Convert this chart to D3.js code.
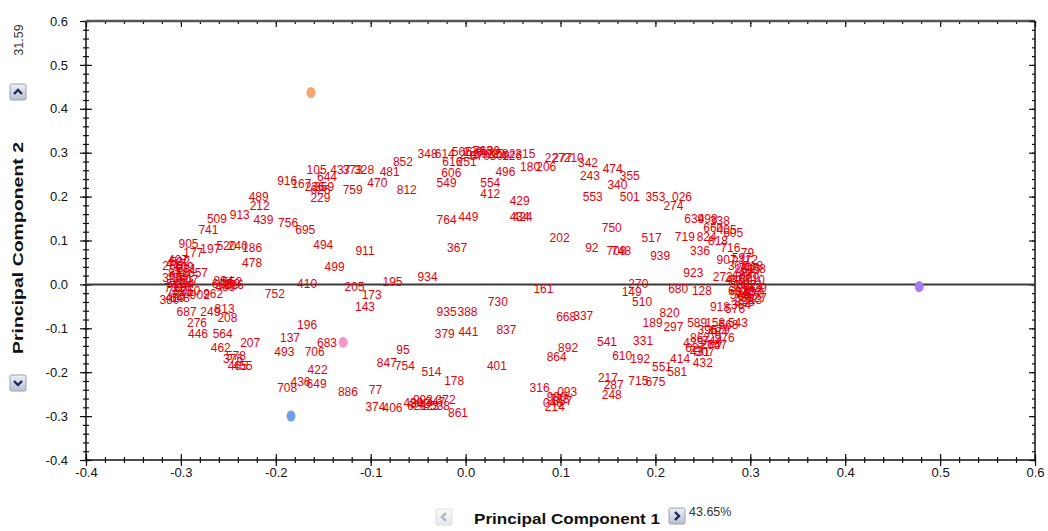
<!DOCTYPE html>
<html>
<head>
<meta charset="utf-8">
<script src="https://cdn.jsdelivr.net/npm/d3@7"></script>
<style>
  html, body { margin: 0; padding: 0; background: #fff; }
  svg { display: block; font-family: "Liberation Sans", Arial, sans-serif; }
</style>
</head>
<body>
<svg id="chart" width="1048" height="531"></svg>
<script>
// ---- data ----
const labels = ["916","167","105","644","437","373","328","481","470","852","812","759","626","236","229","489","212","509","913","439","756","695","741","905","197","520","240","186","478","177","407","657","494","911","499","410","752","205","173","143","195","934","367","764","449",
"417","872","301","563","118","790","234","648","419","902","962","681","325","760",
"603","060","226","483",
"687","249","813","208","276","446","564","462","207","376","455","465","578","137","493","196","706","683","422","708","436","649","886","77","374","406","430","993","923","372","843","861","847","95","754","514","178","401","935","388","379","441","730","837","161",
"348","614","616","251","606","549","505","220","593","022","870","139","309","496","554","412","315","180","206","227","277","210","342","243","474","355","340","553","501","353","026","274","429","424","434","202","92","750","748","708","517","939","719","634","998","338","824","605","405","336","907","923","272","79","218","270","149","510","680","128","918","576",
"761","283","546","635","710","488","659","302","856","127","390","871","445","597","716","818","660",
"668","337","541","331","189","820","297","610","192","892","864","316","093","990","214","887","217","248","287","715","675","551","581","414","425","432","589","543","976","158","395","862","744","627","307","484","747",
"112","458","633","729","845","213","364","570","682","909","151",
"266","592","731","844","380","507","655","109",
"894","552","299","763","582","126","621","347","538","773","046","265","679","431","568","359"];
const pc1 = [-0.188,-0.173,-0.157,-0.146,-0.132,-0.119,-0.107,-0.080,-0.093,-0.066,-0.062,-0.119,-0.153,-0.159,-0.153,-0.218,-0.217,-0.262,-0.238,-0.213,-0.187,-0.169,-0.271,-0.292,-0.269,-0.252,-0.240,-0.225,-0.225,-0.287,-0.303,-0.282,-0.150,-0.106,-0.138,-0.167,-0.201,-0.117,-0.099,-0.106,-0.077,-0.040,-0.009,-0.020,0.003,
-0.305,-0.303,-0.298,-0.305,-0.299,-0.304,-0.296,-0.301,-0.306,-0.280,-0.266,-0.294,-0.309,-0.290,
-0.257,-0.248,-0.244,-0.253,
-0.294,-0.269,-0.254,-0.251,-0.283,-0.282,-0.256,-0.258,-0.227,-0.245,-0.235,-0.240,-0.242,-0.185,-0.191,-0.167,-0.159,-0.146,-0.156,-0.188,-0.174,-0.157,-0.124,-0.095,-0.095,-0.077,-0.055,-0.045,-0.038,-0.021,-0.048,-0.008,-0.083,-0.066,-0.064,-0.036,-0.012,0.033,-0.020,0.002,-0.022,0.003,0.034,0.043,0.082,
-0.040,-0.022,-0.014,0.001,-0.015,-0.020,-0.004,0.008,0.020,0.031,0.015,0.026,0.036,0.042,0.026,0.026,0.063,0.068,0.085,0.094,0.102,0.114,0.129,0.131,0.155,0.173,0.160,0.134,0.173,0.200,0.228,0.219,0.057,0.060,0.057,0.099,0.133,0.154,0.164,0.159,0.196,0.205,0.231,0.241,0.255,0.268,0.254,0.282,0.275,0.247,0.275,0.240,0.271,0.297,0.303,0.182,0.175,0.186,0.224,0.249,0.268,0.284,
0.294,0.302,0.289,0.297,0.305,0.291,0.300,0.287,0.294,0.307,0.289,0.303,0.284,0.291,0.279,0.266,0.261,
0.106,0.124,0.149,0.187,0.197,0.215,0.219,0.165,0.184,0.108,0.096,0.078,0.107,0.096,0.094,0.102,0.150,0.154,0.156,0.182,0.200,0.207,0.223,0.226,0.240,0.250,0.244,0.287,0.273,0.263,0.255,0.247,0.260,0.242,0.252,0.266,0.265,
0.298,0.306,0.289,0.307,0.295,0.302,0.290,0.304,0.287,0.299,0.294,
-0.309,-0.301,-0.307,-0.298,-0.312,-0.292,-0.302,-0.297,
-0.255,-0.246,0.004,0.018,0.042,0.049,-0.051,-0.032,-0.027,0.099,0.092,0.258,0.268,0.247,0.277,-0.149];
const pc2 = [0.235,0.228,0.260,0.244,0.260,0.260,0.260,0.255,0.230,0.278,0.214,0.214,0.216,0.223,0.196,0.198,0.178,0.150,0.157,0.146,0.141,0.123,0.123,0.093,0.080,0.087,0.087,0.084,0.048,0.071,0.055,0.025,0.089,0.075,0.039,0.002,-0.021,-0.007,-0.025,-0.052,0.005,0.016,0.084,0.146,0.153,
0.046,0.027,0.014,0.002,-0.007,-0.016,0.002,-0.032,-0.030,-0.025,-0.021,0.036,0.014,-0.014,
0.002,0.000,-0.002,-0.005,
-0.064,-0.064,-0.055,-0.077,-0.087,-0.112,-0.112,-0.144,-0.134,-0.169,-0.187,-0.185,-0.162,-0.121,-0.155,-0.093,-0.155,-0.134,-0.196,-0.237,-0.223,-0.226,-0.246,-0.241,-0.280,-0.282,-0.271,-0.264,-0.276,-0.264,-0.273,-0.292,-0.178,-0.150,-0.185,-0.200,-0.219,-0.185,-0.064,-0.064,-0.112,-0.109,-0.041,-0.105,-0.011,
0.296,0.298,0.278,0.278,0.253,0.232,0.301,0.301,0.298,0.296,0.292,0.303,0.292,0.255,0.230,0.207,0.298,0.267,0.267,0.289,0.287,0.287,0.276,0.248,0.264,0.248,0.226,0.198,0.198,0.198,0.198,0.178,0.191,0.153,0.153,0.105,0.084,0.128,0.077,0.077,0.105,0.064,0.107,0.150,0.150,0.144,0.107,0.118,0.123,0.077,0.055,0.025,0.016,0.071,0.043,0.002,-0.018,-0.041,-0.011,-0.014,-0.052,-0.055,
-0.002,-0.014,-0.025,-0.027,0.009,0.021,0.032,0.043,-0.041,-0.032,-0.009,-0.002,0.009,0.059,0.082,0.100,0.128,
-0.075,-0.071,-0.132,-0.128,-0.087,-0.066,-0.098,-0.162,-0.169,-0.146,-0.166,-0.235,-0.246,-0.257,-0.280,-0.266,-0.214,-0.253,-0.230,-0.219,-0.223,-0.189,-0.200,-0.169,-0.134,-0.178,-0.089,-0.089,-0.121,-0.089,-0.105,-0.121,-0.128,-0.146,-0.155,-0.109,-0.139,
0.055,0.036,0.009,-0.009,-0.018,-0.036,-0.048,-0.023,-0.014,0.014,0.036,
0.041,0.050,-0.009,-0.021,-0.036,0.011,0.018,0.039,
0.007,0.005,0.294,0.303,0.298,0.292,-0.276,-0.269,-0.278,-0.260,-0.271,-0.139,-0.105,-0.155,-0.093,0.221];

// highlighted observations (dots)
const dotPc1 = [-0.163, -0.184, -0.129, 0.478];
const dotPc2 = [0.437, -0.300, -0.132, -0.005];

const xTickLabels = ["-0.4","-0.3","-0.2","-0.1","0.0","0.1","0.2","0.3","0.4","0.5","0.6"];
const yTickLabels = ["-0.4","-0.3","-0.2","-0.1","0.0","0.1","0.2","0.3","0.4","0.5","0.6"];
const xTitle = "Principal Component 1";
const yTitle = "Principal Component 2";
const xPct = "43.65%";
const yPct = "31.59";

// ---- styles ----
const dotColours = ["#f5a66e", "#6f9fe6", "#f29ac6", "#a67af2"];
const labelColour = "#e4000a";

// ---- layout ----
const svg = d3.select("#chart");
const pLeft = 86, pRight = 1035, pTop = 21, pBottom = 460;
const x = d3.scaleLinear().domain([-0.4, 0.6]).range([pLeft, pRight]);
const y = d3.scaleLinear().domain([-0.4, 0.6]).range([pBottom, pTop]);
const major = xTickLabels.map(Number);
const minorX = x.ticks(50);
const minorY = y.ticks(50);

function tickAxis(axisFn, scale, values, size, g) {
  g.call(axisFn(scale).tickValues(values).tickSize(size).tickFormat(""))
   .call(s => s.select(".domain").remove())
   .call(s => s.selectAll("line").attr("stroke", "#111").attr("stroke-width", 1.2));
}

// left axis: crossing ticks
const gl = svg.append("g").attr("transform", `translate(${pLeft},0)`);
tickAxis(d3.axisLeft, y, minorY, 3, gl.append("g"));
tickAxis(d3.axisLeft, y, minorY, -3, gl.append("g"));
tickAxis(d3.axisLeft, y, major, 6, gl.append("g"));
tickAxis(d3.axisLeft, y, major, -6, gl.append("g"));
gl.append("g").call(d3.axisLeft(y).tickValues(major).tickSize(0).tickPadding(18)
    .tickFormat((d, i) => yTickLabels[i]))
  .call(s => s.select(".domain").remove())
  .call(s => s.selectAll("text").attr("font-size", 13).attr("fill", "#111")
    .attr("font-family", "Liberation Sans, Arial, sans-serif"));
gl.append("line").attr("x1", 0).attr("x2", 0).attr("y1", pTop).attr("y2", pBottom)
  .attr("stroke", "#111").attr("stroke-width", 1.5);

// bottom axis: crossing ticks
const gb = svg.append("g").attr("transform", `translate(0,${pBottom})`);
tickAxis(d3.axisBottom, x, minorX, 3, gb.append("g"));
tickAxis(d3.axisBottom, x, minorX, -3, gb.append("g"));
tickAxis(d3.axisBottom, x, major, 6, gb.append("g"));
tickAxis(d3.axisBottom, x, major, -6, gb.append("g"));
gb.append("g").call(d3.axisBottom(x).tickValues(major).tickSize(0).tickPadding(8)
    .tickFormat((d, i) => xTickLabels[i]))
  .call(s => s.select(".domain").remove())
  .call(s => s.selectAll("text").attr("font-size", 13).attr("fill", "#111")
    .attr("font-family", "Liberation Sans, Arial, sans-serif"));
gb.append("line").attr("x1", pLeft).attr("x2", pRight).attr("y1", 0).attr("y2", 0)
  .attr("stroke", "#111").attr("stroke-width", 1.5);

// top axis: inward ticks
const gt = svg.append("g").attr("transform", `translate(0,${pTop})`);
tickAxis(d3.axisTop, x, minorX, -3, gt.append("g"));
tickAxis(d3.axisTop, x, major, -6, gt.append("g"));
gt.append("line").attr("x1", pLeft).attr("x2", pRight).attr("y1", 0).attr("y2", 0)
  .attr("stroke", "#555").attr("stroke-width", 2.5);

// right axis: inward ticks
const gr = svg.append("g").attr("transform", `translate(${pRight},0)`);
tickAxis(d3.axisRight, y, minorY, -3, gr.append("g"));
tickAxis(d3.axisRight, y, major, -6, gr.append("g"));
gr.append("line").attr("x1", 0).attr("x2", 0).attr("y1", pTop).attr("y2", pBottom)
  .attr("stroke", "#111").attr("stroke-width", 1.5);

// zero line
svg.append("line").attr("x1", pLeft).attr("x2", pRight).attr("y1", y(0)).attr("y2", y(0))
  .attr("stroke", "#3a3a3a").attr("stroke-width", 2);

// labels
svg.append("g").selectAll("text").data(labels).join("text")
  .attr("x", (d, i) => x(pc1[i]))
  .attr("y", (d, i) => y(pc2[i]))
  .attr("text-anchor", "middle")
  .attr("dominant-baseline", "central")
  .attr("font-size", 12)
  .attr("fill", labelColour)
  .text(d => d);

// dots
svg.append("g").selectAll("ellipse").data(dotPc1).join("ellipse")
  .attr("cx", (d, i) => x(d))
  .attr("cy", (d, i) => y(dotPc2[i]))
  .attr("rx", 4.5).attr("ry", 5.5)
  .attr("fill", (d, i) => dotColours[i]);

// buttons
const defs = svg.append("defs");
const grad = defs.append("linearGradient").attr("id", "btn").attr("x1", 0).attr("y1", 0).attr("x2", 0).attr("y2", 1);
grad.append("stop").attr("offset", 0).attr("stop-color", "#eef0f6");
grad.append("stop").attr("offset", 1).attr("stop-color", "#b9bfd0");
function button(cx, cy, dir, faded) {
  const g = svg.append("g").attr("transform", `translate(${cx},${cy})`).attr("opacity", faded ? 0.35 : 1);
  g.append("rect").attr("x", -8).attr("y", -8).attr("width", 16).attr("height", 16)
    .attr("rx", 1.5).attr("fill", "url(#btn)").attr("stroke", "#9aa0b2");
  const paths = {
    up: "M-4,2 L0,-2 L4,2",
    down: "M-4,-2 L0,2 L4,-2",
    left: "M2,-4 L-2,0 L2,4",
    right: "M-2,-4 L2,0 L-2,4"
  };
  g.append("path").attr("d", paths[dir]).attr("fill", "none")
    .attr("stroke", "#1d2a55").attr("stroke-width", 2.4);
}
button(18, 92, "up", false);
button(18, 383, "down", false);
button(444, 517, "left", true);
button(677, 516, "right", false);

// titles
svg.append("text").attr("transform", "translate(23,248) rotate(-90)")
  .attr("text-anchor", "middle").attr("font-weight", "bold").attr("font-size", 15)
  .attr("textLength", 212).attr("lengthAdjust", "spacingAndGlyphs")
  .attr("fill", "#111").text(yTitle);
svg.append("text").attr("transform", "translate(23,40) rotate(-90)")
  .attr("text-anchor", "middle").attr("font-size", 12.5)
  .attr("fill", "#333").text(yPct);
svg.append("text").attr("x", 567).attr("y", 524)
  .attr("text-anchor", "middle").attr("font-weight", "bold").attr("font-size", 15)
  .attr("textLength", 186).attr("lengthAdjust", "spacingAndGlyphs")
  .attr("fill", "#111").text(xTitle);
svg.append("text").attr("x", 689).attr("y", 516)
  .attr("font-size", 12.5).attr("fill", "#333").text(xPct);
</script>
</body>
</html>
